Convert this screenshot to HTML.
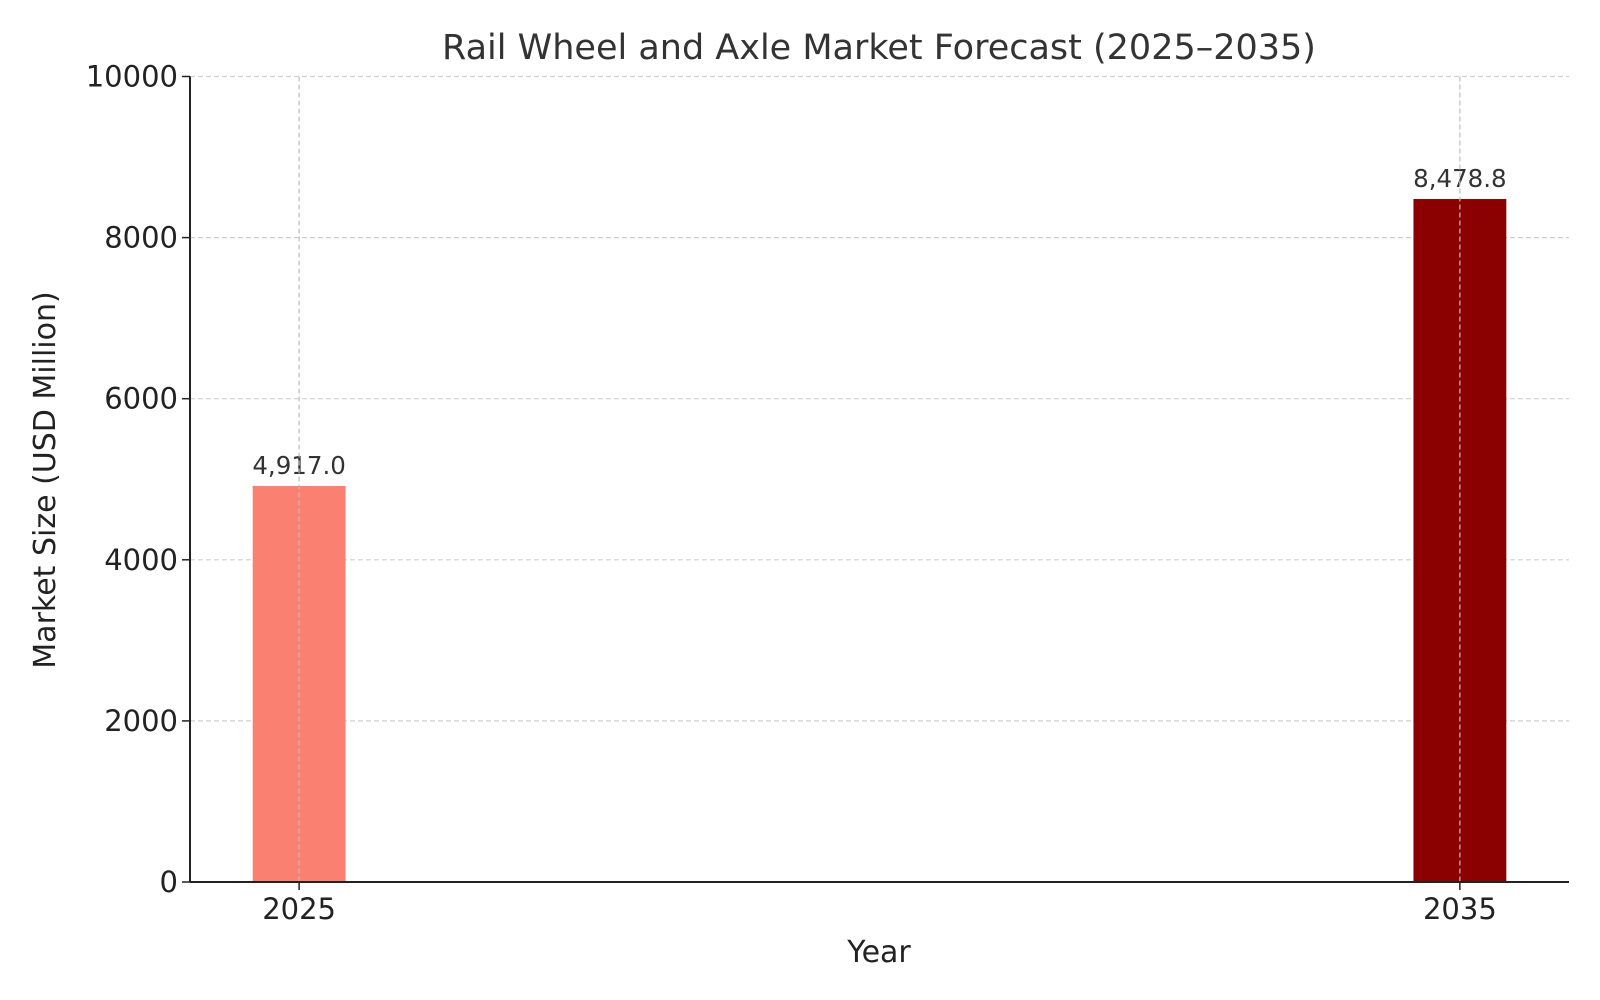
<!DOCTYPE html>
<html><head><meta charset="utf-8">
<style>
html,body{margin:0;padding:0;background:#fff;}
svg{display:block;font-family:"DejaVu Sans","Liberation Sans",sans-serif;}
</style></head>
<body>
<svg id="chart" width="1600" height="1000" viewBox="0 0 1600 1000">
  <text x="879" y="59" text-anchor="middle" font-size="35" fill="#333">Rail Wheel and Axle Market Forecast (2025–2035)</text>
  <g id="grid"></g>
  <g id="bars"></g>
  <g id="axes"></g>
  <text x="879" y="962" text-anchor="middle" font-size="30" fill="#222">Year</text>
  <text transform="translate(55,480) rotate(-90)" text-anchor="middle" font-size="30" fill="#222">Market Size (USD Million)</text>
</svg>
<script>
const years = [2025, 2035];
const values = [4917.0, 8478.8];
const valueLabels = ["4,917.0", "8,478.8"];
const barColors = ["#FA8072", "#8B0000"];
const yTicks = [0, 2000, 4000, 6000, 8000, 10000];
const xTicks = [2025, 2035];

const L = 190, R = 1569, T = 76.5, B = 882;
const xMin = 2024.06, xMax = 2035.94, yMin = 0, yMax = 10000;
const xs = v => L + (v - xMin) / (xMax - xMin) * (R - L);
const ys = v => B - (v - yMin) / (yMax - yMin) * (B - T);
const NS = "http://www.w3.org/2000/svg";
function mk(tag, attrs, parent) {
  const e = document.createElementNS(NS, tag);
  for (const k in attrs) e.setAttribute(k, attrs[k]);
  parent.appendChild(e);
  return e;
}
const grid = document.getElementById('grid');
const bars = document.getElementById('bars');
const axes = document.getElementById('axes');

yTicks.forEach(t => {
  const g = mk('line', {x1: L, x2: R, y1: ys(t), y2: ys(t), stroke: '#cfcfcf', 'stroke-width': 1.2, 'stroke-dasharray': '5,3'}, grid);
  
  
  const tk = mk('line', {x1: L - 8, x2: L, y1: ys(t), y2: ys(t), stroke: '#222', 'stroke-width': 1.5}, axes);
  
  
  const lb = mk('text', {x: L - 12, y: ys(t) + 10, 'text-anchor': 'end', 'font-size': 29, fill: '#222'}, axes);
  lb.textContent = t;
  
  
});

years.forEach((yr, i) => {
  const w = xs(yr + 0.4) - xs(yr - 0.4);
  const r = mk('rect', {x: xs(yr - 0.4), y: ys(values[i]), width: w, height: ys(0) - ys(values[i]), fill: barColors[i]}, bars);
  
  
  const t = mk('text', {x: xs(yr), y: ys(values[i]) - 12, 'text-anchor': 'middle', 'font-size': 24.5, fill: '#333'}, bars);
  t.textContent = valueLabels[i];
  
  
});

xTicks.forEach(t => {
  const g = mk('line', {x1: xs(t), x2: xs(t), y1: T, y2: B, stroke: '#bdbdbd', 'stroke-width': 1.2, 'stroke-dasharray': '5,3'}, bars);
  
  
  const tk = mk('line', {x1: xs(t), x2: xs(t), y1: B, y2: B + 8, stroke: '#222', 'stroke-width': 1.5}, axes);
  
  
  const lb = mk('text', {x: xs(t), y: B + 37, 'text-anchor': 'middle', 'font-size': 29, fill: '#222'}, axes);
  lb.textContent = t;
  
  
});

const ya = mk('line', {x1: L, x2: L, y1: T, y2: B, stroke: '#222', 'stroke-width': 2}, axes);


const xa = mk('line', {x1: L, x2: R, y1: B, y2: B, stroke: '#222', 'stroke-width': 2}, axes);


</script>
</body></html>
